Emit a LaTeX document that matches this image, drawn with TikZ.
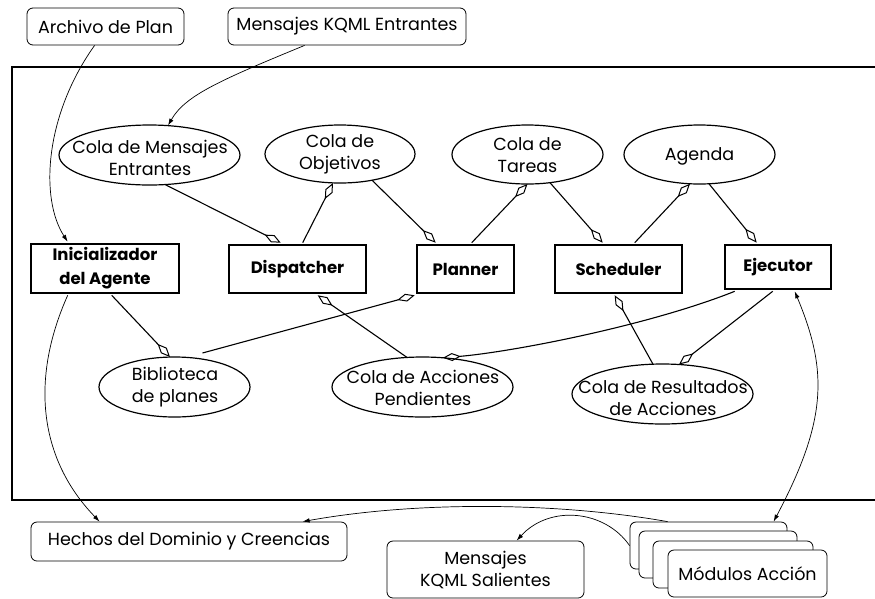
\documentclass[tikz,border=0pt]{standalone}
\usepackage{fontspec}
\setmainfont{Poppins}
\usetikzlibrary{arrows.meta,shapes.geometric,calc}

\begin{document}
\begin{tikzpicture}[x=1pt,y=-1pt,
  every node/.style={font=\fontsize{17.5}{22}\selectfont},
  extbox/.style={draw,rounded corners=6pt,line width=0.8pt,inner sep=0pt,fill=white,align=center},
  proc/.style={draw,line width=2.6pt,inner sep=0pt,align=center,
    font=\fontsize{16.5}{24}\selectfont\bfseries},
  queue/.style={ellipse,draw,line width=1.2pt,inner sep=0pt},
  qtext/.style={inner sep=0pt,align=center},
  agg/.style={-{Diamond[open,length=18pt,width=8pt,line width=1pt]},line width=1.1pt},
  flow/.style={-{Latex[length=7pt,width=4.5pt]},line width=0.7pt},
  bothflow/.style={{Latex[length=7pt,width=4.5pt]}-{Latex[length=7pt,width=4.5pt]},line width=0.7pt}]

\useasboundingbox (0,0) rectangle (875,598);

% agent frame, open on the right
\draw[line width=2.8pt] (878,67) -- (12,67) -- (12,500) -- (878,500);

% external sources and sinks
\node[extbox,minimum width=157pt,minimum height=37pt] (archivo) at (105.5,26.5) {Archivo de Plan};
\node[extbox,minimum width=238pt,minimum height=37pt] (kqmlIn) at (347,26.5) {Mensajes KQML Entrantes};
\node[extbox,minimum width=316pt,minimum height=39pt] (hechos) at (189,541.5) {Hechos del Dominio y Creencias};
\node[extbox,minimum width=197pt,minimum height=57pt] (kqmlOut) at (485.5,569.5) {Mensajes\\KQML Salientes};

% stacked action modules
\node[extbox,minimum width=157pt,minimum height=47pt] (m1) at (708.5,545.5) {};
\node[extbox,minimum width=158pt,minimum height=47pt] (m2) at (718,554.5) {};
\node[extbox,minimum width=160pt,minimum height=47pt] (m3) at (733,564.5) {};
\node[extbox,minimum width=159pt,minimum height=47pt] (m4) at (747.5,573.5) {Módulos Acción};

% processes
\node[proc,minimum width=148pt,minimum height=49pt] (ini) at (105,268.5) {Inicializador\\del Agente};
\node[proc,minimum width=137pt,minimum height=48pt] (disp) at (297.5,269) {Dispatcher};
\node[proc,minimum width=97pt,minimum height=48pt] (plan) at (465.5,269) {Planner};
\node[proc,minimum width=127pt,minimum height=48pt] (sched) at (618.5,269) {Scheduler};
\node[proc,minimum width=106pt,minimum height=44pt] (ejec) at (778,267) {Ejecutor};

% queues and stores
\node[queue,minimum width=181pt,minimum height=60pt] (cme) at (149.5,155) {};
\node[qtext] (cmeT) at (150,158) {Cola de Mensajes\\Entrantes};
\node[queue,minimum width=150pt,minimum height=58pt] (cobj) at (340,154) {};
\node[qtext] (cobjT) at (340,154) {Cola de\\Objetivos};
\node[queue,minimum width=151pt,minimum height=59pt] (ctar) at (527.5,154.5) {};
\node[qtext] (ctarT) at (527.5,155) {Cola de\\Tareas};
\node[queue,minimum width=151pt,minimum height=59pt] (agenda) at (699.5,154.5) {};
\node[qtext] (agendaT) at (699.5,156) {Agenda};
\node[queue,minimum width=151pt,minimum height=60pt] (bib) at (174.5,387) {};
\node[qtext] (bibT) at (175,387) {Biblioteca\\de planes};
\node[queue,minimum width=181pt,minimum height=60pt] (cap) at (422.5,387) {};
\node[qtext] (capT) at (423,388) {Cola de Acciones\\Pendientes};
\node[queue,minimum width=181pt,minimum height=60pt] (cra) at (662.5,394) {};
\node[qtext] (craT) at (663,398) {Cola de Resultados\\de Acciones};

% queue connections
\draw[agg] ($(cme.center)+(15.5,29.5)$) -- ($(disp.north west)+(53,-1)$);
\draw[agg] ($(disp.north west)+(75,-1)$) -- ($(cobj.center)+(-7,29)$);
\draw[agg] ($(cobj.center)+(32,26.2)$) -- ($(plan.north west)+(20,-1)$);
\draw[agg] ($(plan.north west)+(56,-1)$) -- ($(ctar.center)+(0,29.5)$);
\draw[agg] ($(ctar.center)+(22.5,28.2)$) -- ($(sched.north west)+(49,-1)$);
\draw[agg] ($(sched.north west)+(81,-1)$) -- ($(agenda.center)+(-9.5,29.3)$);
\draw[agg] ($(agenda.center)+(9.5,29.3)$) -- ($(ejec.north west)+(33,-1)$);
\draw[agg] ($(ini.south west)+(82,1)$) -- ($(bib.center)+(-4.5,-30)$);
\draw[agg] ($(bib.center)+(28,-34)$) -- ($(plan.south west)+(-1,1)$);
\draw[agg] ($(cap.center)+(-15.5,-29.6)$) -- ($(disp.south west)+(90,1)$);
\draw[agg] ($(ejec.south west)+(11,1)$) .. controls +(-85,34) and +(70,-6) .. ($(cap.center)+(20.5,-29.2)$);
\draw[agg] ($(cra.center)+(-9.5,-29.8)$) -- ($(sched.south west)+(61,1)$);
\draw[agg] ($(ejec.south west)+(49,1)$) -- ($(cra.center)+(16.5,-29.5)$);

% external flows
\draw[flow] ($(archivo.south west)+(68,0)$) .. controls +(-50,70) and +(-28,-43) .. ($(ini.north west)+(38,-1)$);
\draw[flow] ($(kqmlIn.south west)+(77,0)$) .. controls +(-85,35) and +(17,-30) .. ($(cme.center)+(18.5,-29.4)$);
\draw[flow] ($(ini.south west)+(38,1)$) .. controls +(-38,85) and +(-60,-62) .. ($(hechos.north west)+(69,0)$);
\draw[bothflow] ($(ejec.south west)+(71,1)$) .. controls +(33,79) and +(54,-102) .. ($(m1.north west)+(144,0)$);
\draw[flow] ($(m1.north west)+(38,0)$) .. controls +(-108,-19) and +(117,-21) .. ($(hechos.north west)+(272,0)$);
\draw[flow] ($(m1.north west)+(0,24)$) .. controls +(-25,-36) and +(33,-36) .. ($(kqmlOut.north west)+(130,0)$);

\end{tikzpicture}
\end{document}
